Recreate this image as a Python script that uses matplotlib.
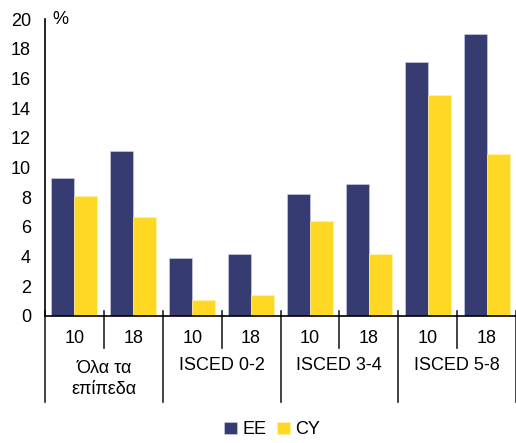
import matplotlib.pyplot as plt
import matplotlib.transforms as mtransforms
import numpy as np

plt.rcParams['font.family'] = ['Liberation Sans', 'DejaVu Sans']

groups = ["Όλα τα\nεπίπεδα", "ISCED 0-2", "ISCED 3-4", "ISCED 5-8"]
ages = ["10", "18"]
ee = [9.3, 11.1, 3.9, 4.2, 8.2, 8.9, 17.1, 19.0]
cy = [8.1, 6.7, 1.1, 1.4, 6.4, 4.2, 14.9, 10.9]

navy = "#363c72"
yellow = "#ffd823"
fs = 13

fig = plt.figure(figsize=(5.16, 4.43), dpi=100)
ax = fig.add_axes([45 / 516, 1 - 316 / 443, 1 - 45 / 516, (316 - 19) / 443])

x = np.arange(len(ee))
w = 0.39
ax.bar(x - w / 2, ee, w, color=navy, edgecolor="#d0d3e6", linewidth=0.4, label="EE")
ax.bar(x + w / 2, cy, w, color=yellow, edgecolor="#fff3b0", linewidth=0.4, label="CY")

ax.set_xlim(-0.5, len(ee) - 0.5)
ax.set_ylim(0, 20)
ax.set_yticks(range(0, 21, 2))
ax.tick_params(axis="y", length=0, pad=10, labelsize=fs)
ax.set_xticks([])
for s in ["top", "right"]:
    ax.spines[s].set_visible(False)
ax.spines["left"].set_linewidth(1.2)
ax.spines["bottom"].set_linewidth(1.2)

ax.text(0.015, 1.0, "%", transform=ax.transAxes, fontsize=fs, ha="left", va="center")

trans = mtransforms.blended_transform_factory(ax.transData, ax.transAxes)
# separators under the axis
for b in np.arange(-0.5, len(ee), 1.0):
    k = int(b + 0.5)
    if k % 2 == 0:
        ax.plot([b, b], [0.017, -0.29], transform=trans, color="#222222", lw=1.2, clip_on=False)
    else:
        ax.plot([b, b], [0.017, -0.108], transform=trans, color="#222222", lw=1.2, clip_on=False)

for i in range(len(ee)):
    ax.text(i, -0.077, ages[i % 2], transform=trans, ha="center", va="center", fontsize=fs)

for g, name in enumerate(groups):
    yy = -0.212 if "\n" in name else -0.165
    ax.text(2 * g + 0.5, yy, name, transform=trans, ha="center", va="center",
            fontsize=fs, linespacing=1.25)

fig.legend(loc="center", bbox_to_anchor=(0.527, 0.03), ncol=2, frameon=False,
           fontsize=fs, handlelength=0.7, handleheight=0.7, handletextpad=0.3,
           columnspacing=0.6)

fig.savefig("out.png", dpi=100)
